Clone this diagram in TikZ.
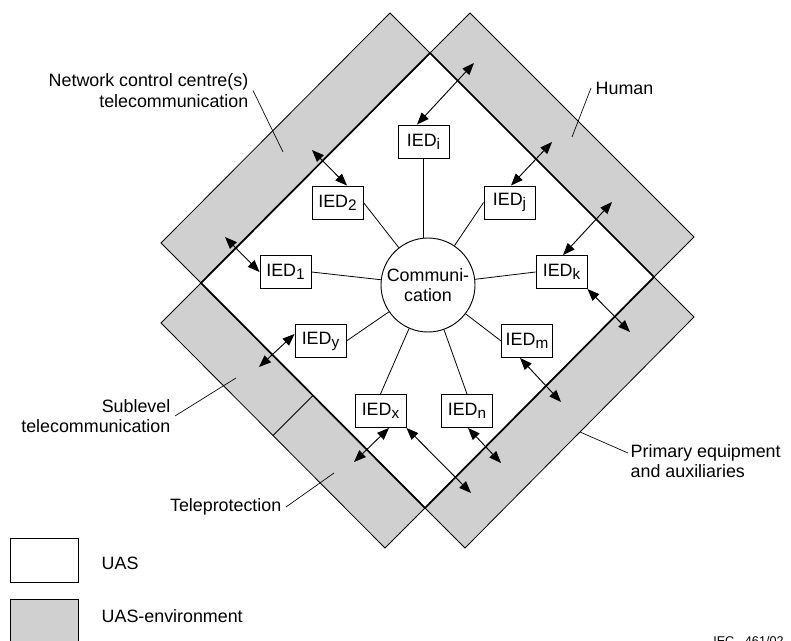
\documentclass[tikz,border=0pt]{standalone}
\usepackage{fontspec}
\setmainfont{Liberation Sans}
\usepackage{xcolor}
\usepackage{tikz}
\usetikzlibrary{calc,shapes,positioning}
\usetikzlibrary{arrows.meta}
\definecolor{envgray}{RGB}{208,208,208}
\newcommand{\iedsub}[1]{\raisebox{-0.32ex}{\fontsize{11.5}{12}\selectfont #1}}

\begin{document}
\begin{tikzpicture}[x=0.75pt,y=-0.75pt,font=\fontsize{13.4}{15.5}\selectfont]
      \tikzstyle{iednode} = [draw, line width=0.7pt, rectangle, minimum width=38.25pt, minimum height=24.75pt, inner sep=1pt, fill=white]
      \tikzstyle{cnode} = [draw, line width=0.7pt, circle, minimum size=70.5pt, inner sep=0pt, align=center, fill=white]
      \tikzstyle{band} = [fill=envgray, draw, line width=0.6pt]
      \tikzstyle{dlink} = [line width=0.7pt, {Triangle[length=9pt,width=7pt]}-{Triangle[length=9pt,width=7pt]}]
      \tikzstyle{lead} = [line width=0.5pt]
      \tikzstyle{lbl} = [align=left]

      \useasboundingbox (0,0) rectangle (791,641);

      % corners of the UAS square
      \coordinate (T) at (430,53);
      \coordinate (R) at (654,277);
      \coordinate (B) at (425,508);
      \coordinate (L) at (201,283);

      % environment bands
      \draw[band] (L) -- (T) -- ++(-40,-40) -- ($(L)+(-40,-40)$) -- cycle;
      \draw[band] (T) -- (R) -- ++(40,-40) -- ($(T)+(40,-40)$) -- cycle;
      \draw[band] (R) -- (B) -- ++(40,40) -- ($(R)+(40,40)$) -- cycle;
      \draw[band] (B) -- (L) -- ++(-40,40) -- ($(B)+(-40,40)$) -- cycle;
      \draw[line width=0.6pt] ($(L)!0.5!(B)$) -- ++(-40,40);
      \draw[line width=1.3pt] (L) -- (T) -- (R) -- (B) -- cycle;

      \node[cnode] (comm) at (428,285) {Communi-\\cation};

      \node[iednode] (IEDi) at (423.5,141.5) {IED\iedsub{i}};
      \node[iednode] (IED2) at (337.5,202.5) {IED\iedsub{2}};
      \node[iednode] (IED1) at (285.5,272) {IED\iedsub{1}};
      \node[iednode] (IEDj) at (509.5,202.5) {IED\iedsub{j}};
      \node[iednode] (IEDk) at (561.5,272) {IED\iedsub{k}};
      \node[iednode] (IEDm) at (527,341) {IED\iedsub{m}};
      \node[iednode] (IEDn) at (467,411) {IED\iedsub{n}};
      \node[iednode] (IEDx) at (380.5,411) {IED\iedsub{x}};
      \node[iednode] (IEDy) at (320.5,341) {IED\iedsub{y}};

      % connections
      \draw[line width=0.6pt] (IEDi) -- (IEDi |- comm.north);
      \draw[line width=0.6pt] (IED2.east) -- (comm);
      \draw[line width=0.6pt] (IED1.east) -- (comm);
      \draw[line width=0.6pt] (IEDj.west) -- (comm);
      \draw[line width=0.6pt] (IEDk.west) -- (comm);
      \draw[line width=0.6pt] (IEDm.west) -- (comm);
      \draw[line width=0.6pt] (IEDn.north) -- (comm);
      \draw[line width=0.6pt] (IEDx.north) -- (comm);
      \draw[line width=0.6pt] (IEDy.east) -- (comm);

      % links into the environment
      \coordinate (hi) at (474,63);
      \coordinate (h2) at (312,150);
      \coordinate (h1) at (225,237);
      \coordinate (hj) at (552,142);
      \coordinate (hk) at (612,202);
      \coordinate (pk) at (630,332);
      \coordinate (pm) at (561,402);
      \coordinate (pn) at (501,463);
      \coordinate (px) at (471,493);
      \coordinate (tx) at (354,462);
      \coordinate (sy) at (259,367);
      \draw[dlink] ($(IEDi.north)+(-6.5,0)$) -- (hi);
      \draw[dlink] ($(IED2.north)+(9.5,0)$) -- (h2);
      \draw[dlink] (IED1.west) -- (h1);
      \draw[dlink] ($(IEDj.north)+(1.5,0)$) -- (hj);
      \draw[dlink] ($(IEDk.north)+(1.5,0)$) -- (hk);
      \draw[dlink] (IEDk.south east) -- (pk);
      \draw[dlink] ($(IEDm.south)+(-7,0)$) -- (pm);
      \draw[dlink] ($(IEDn.south)+(1,0)$) -- (pn);
      \draw[dlink] (IEDx.south east) -- (px);
      \draw[dlink] ($(IEDx.south)+(8.5,0)$) -- (tx);
      \draw[dlink] ($(IEDy.west)+(0,-7)$) -- (sy);

      % labels
      \node[lbl, anchor=east, align=right] (ncc) at (253,90.5) {Network control centre(s)\\telecommunication};
      \node[lbl, anchor=west] (hum) at (591,88) {Human};
      \node[lbl, anchor=east, align=right] (sub) at (175,416) {Sublevel\\telecommunication};
      \node[lbl, anchor=east] (tele) at (286,507) {Teleprotection};
      \node[lbl, anchor=west] (prim) at (626,461) {Primary equipment\\and auxiliaries};
      \coordinate (nccpt) at (283,152);
      \coordinate (humpt) at (572,137);
      \coordinate (subpt) at (236,378);
      \coordinate (telept) at (334,473);
      \coordinate (primpt) at (580,432);
      \draw[lead] (ncc.east) -- (nccpt);
      \draw[lead] (hum.west) -- (humpt);
      \draw[lead] (sub.east) -- (subpt);
      \draw[lead] (tele.east) -- (telept);
      \draw[lead] ($(prim.west)+(2,-8)$) -- (primpt);

      % legend
      \node[draw, line width=0.6pt, minimum width=51pt, minimum height=33pt] (uasbox) at (44,560) {};
      \node[lbl, anchor=west] (uastxt) at (97,563) {UAS};
      \node[draw, fill=envgray, line width=0.6pt, minimum width=51pt, minimum height=33pt] (envbox) at (44,621) {};
      \node[lbl, anchor=west] (envtxt) at (97,616) {UAS-environment};

      \node[anchor=north west, inner sep=0pt, font=\fontsize{9.5}{10}\selectfont] (iec) at (713,636) {IEC\ \ \ 461/02};
\end{tikzpicture}
\end{document}
